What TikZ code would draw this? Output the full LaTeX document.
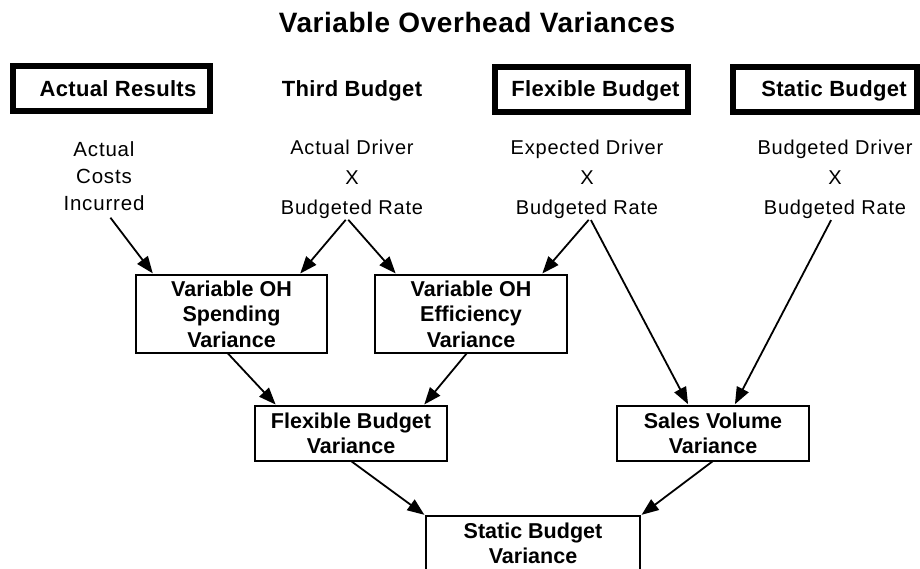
\documentclass[tikz,border=0pt]{standalone}
\usepackage{fontspec}
\setmainfont{Liberation Sans}
\newfontfamily\titlefont[LetterSpace=2]{Liberation Sans}
\newfontfamily\headfont[LetterSpace=1.5]{Liberation Sans}
\newfontfamily\drvfont[LetterSpace=4]{Liberation Sans}
\usetikzlibrary{arrows.meta}

\begin{document}
\begin{tikzpicture}[x=1pt,y=-1pt,
  every node/.style={inner sep=0pt,outer sep=0pt},
  title/.style={font=\titlefont\bfseries\fontsize{28}{32}\selectfont},
  headtext/.style={font=\headfont\bfseries\fontsize{22}{26}\selectfont,
    text height=15.5pt,text depth=0pt},
  headbox/.style={headtext,draw,line width=6pt,minimum height=45pt},
  varbox/.style={draw,line width=1.8pt,align=center,
    font=\bfseries\fontsize{21.5}{25.5}\selectfont,
    minimum width=192pt},
  drvtext/.style={align=center,font=\drvfont\fontsize{20}{30}\selectfont},
  costtext/.style={align=center,font=\drvfont\fontsize{20.5}{27}\selectfont},
  flow/.style={line width=1.8pt,-{Triangle[length=17pt,width=13pt]},
    shorten >=2pt}
]
\useasboundingbox (0,0) rectangle (920,568);

% heading
\node[title,anchor=base] (heading) at (477,32) {Variable Overhead Variances};

% column headings
\node[headbox,minimum width=197pt] (actual) at (111.5,88.5) {\hspace*{13pt}Actual Results};
\node[headtext,anchor=base] (third) at (352,96) {Third Budget};
\node[headbox,minimum width=193pt] (flexible) at (591.5,89) {\hspace*{8pt}Flexible Budget};
\node[headbox,minimum width=184pt] (static) at (825,89) {\hspace*{18pt}Static Budget};

% column contents
\node[costtext] (costs) at (104,176) {Actual\\Costs\\Incurred};
\node[drvtext] (thirddrv) at (352,179) {Actual Driver\\X\\Budgeted Rate};
\node[drvtext] (flexdrv) at (587,179) {Expected Driver\\X\\Budgeted Rate};
\node[drvtext] (staticdrv) at (835,179) {Budgeted Driver\\X\\Budgeted Rate};

% variance boxes
\node[varbox,minimum height=78pt,minimum width=191pt] (spend) at (231.5,314)
  {Variable OH\\Spending\\Variance};
\node[varbox,minimum height=78pt,minimum width=192pt] (eff) at (471,314)
  {Variable OH\\Efficiency\\Variance};
\node[varbox,minimum height=55pt] (fbv) at (351,433.5)
  {Flexible Budget\\Variance};
\node[varbox,minimum height=55pt] (sales) at (713,433.5)
  {Sales Volume\\Variance};
\node[varbox,minimum height=55pt,minimum width=214pt] (sbv) at (533,543.5)
  {Static Budget\\Variance};

% connectors
\draw[flow,shorten <=9pt] ([xshift=1pt]costs.south) -- ([xshift=18pt]spend.north west);
\draw[flow,shorten <=2pt] ([xshift=-5pt]thirddrv.south) -- ([xshift=-28pt]spend.north east);
\draw[flow,shorten <=2pt] ([xshift=-5pt]thirddrv.south) -- ([xshift=22pt]eff.north west);
\draw[flow,shorten <=2pt] ([xshift=3pt]flexdrv.south) -- ([xshift=-26pt]eff.north east);
\draw[flow,shorten <=2pt] ([xshift=3pt]flexdrv.south) -- ([xshift=72pt]sales.north west);
\draw[flow,shorten <=2pt] ([xshift=-3pt]staticdrv.south) -- ([xshift=-75pt]sales.north east);
\draw[flow] ([xshift=-4pt]spend.south) -- ([xshift=22pt]fbv.north west);
\draw[flow] ([xshift=-4pt]eff.south) -- ([xshift=-24pt]fbv.north east);
\draw[flow] (fbv.south) -- (sbv.north west);
\draw[flow] (sales.south) -- (sbv.north east);
\end{tikzpicture}
\end{document}
